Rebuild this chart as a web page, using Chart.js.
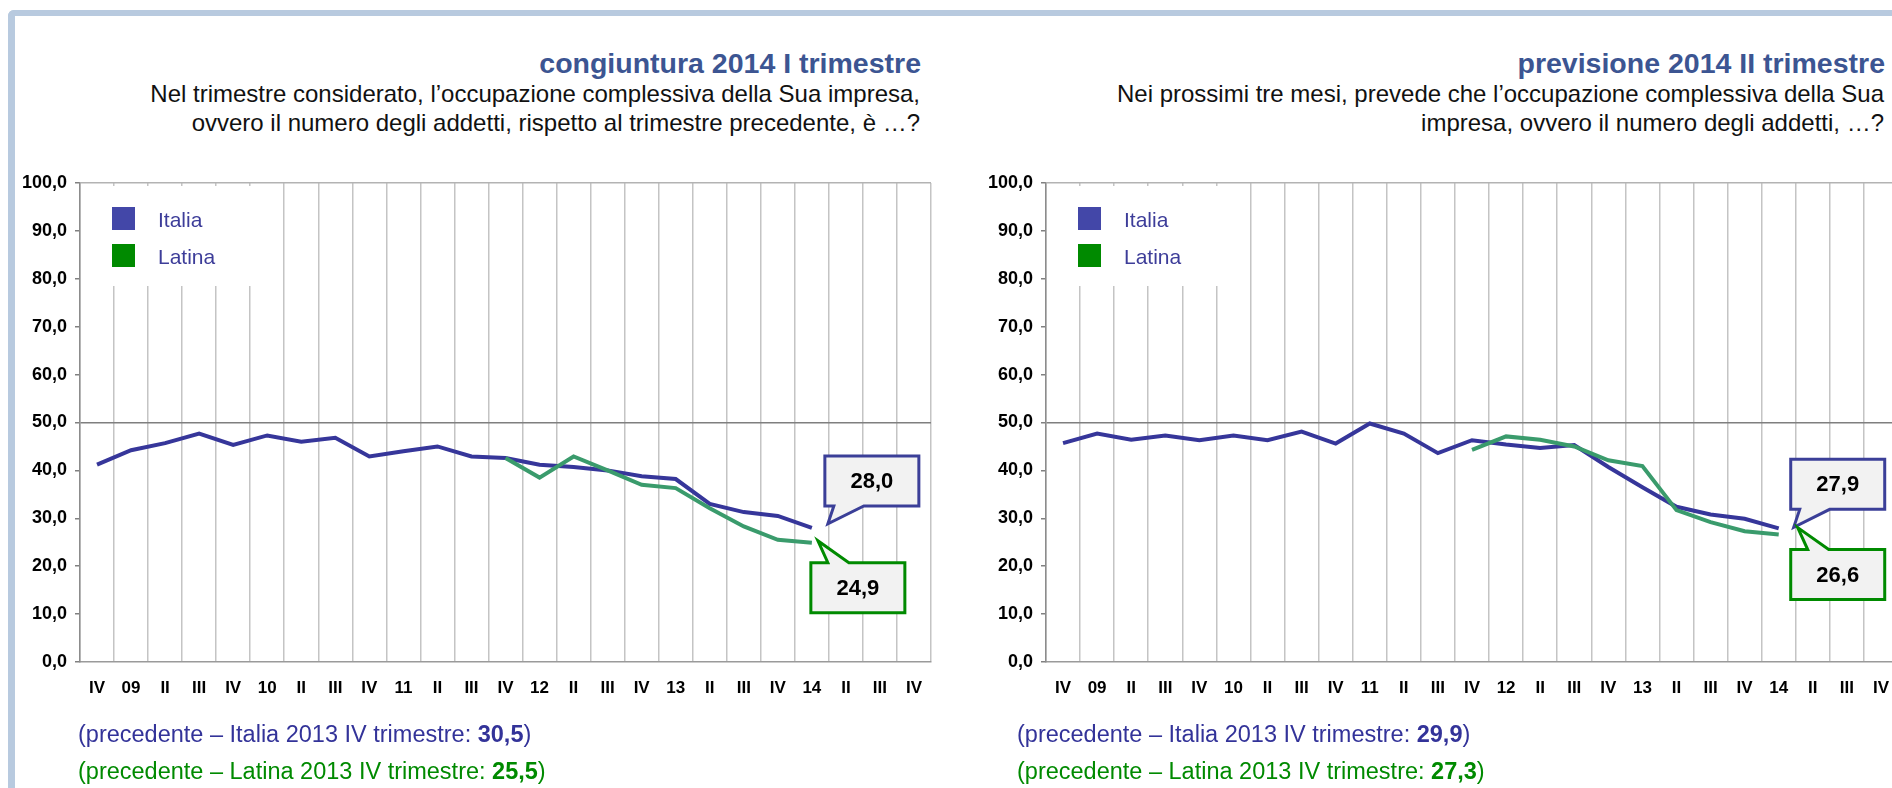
<!DOCTYPE html>
<html lang="it">
<head>
<meta charset="utf-8">
<title>Occupazione - congiuntura e previsione</title>
<script src="https://cdn.jsdelivr.net/npm/chart.js@4.4.1/dist/chart.umd.min.js"></script>
<style>
  html, body { margin: 0; padding: 0; background: #fff; overflow: hidden; }
  #page { position: relative; width: 1892px; height: 788px; overflow: hidden; font-family: Arial, 'Liberation Sans', sans-serif; }
  .frame { position: absolute; left: 8px; top: 10px; width: 1900px; height: 800px; box-sizing: border-box;
           border-top: 6px solid #b8cadf; border-left: 7px solid #b8cadf; border-top-left-radius: 6px; }
  .title { position: absolute; top: 47px; font-weight: bold; font-size: 28.5px; line-height: 32px; color: #3c5592;
           text-align: right; white-space: nowrap; }
  .sub { position: absolute; top: 79px; font-size: 24px; line-height: 29px; color: #111; text-align: right; white-space: nowrap; }
  .note { position: absolute; top: 716px; font-size: 23.5px; line-height: 37px; white-space: nowrap; }
  .note .it { color: #333399; }
  .note .la { color: #008a00; }
  canvas { position: absolute; top: 160px; }
</style>
</head>
<body>
<div id="page">
  <div class="frame"></div>

  <div class="title" style="left:0; width:921px;">congiuntura 2014 I trimestre</div>
  <div class="sub" style="left:0; width:920px;">Nel trimestre considerato, l’occupazione complessiva della Sua impresa,<br>ovvero il numero degli addetti, rispetto al trimestre precedente, è …?</div>

  <div class="title" style="left:946px; width:939px;">previsione 2014 II trimestre</div>
  <div class="sub" style="left:946px; width:938px;">Nei prossimi tre mesi, prevede che l’occupazione complessiva della Sua<br>impresa, ovvero il numero degli addetti, …?</div>

  <canvas id="cong" width="946" height="560" style="left:0;"></canvas>
  <canvas id="prev" width="960" height="560" style="left:946px;"></canvas>

  <div class="note" style="left:78px;" id="note-cong"></div>
  <div class="note" style="left:1017px;" id="note-prev"></div>
</div>

<script>
const FONT = "Arial, 'Liberation Sans', sans-serif";

// trimestri: IV 2008 ... IV 2014
const trimestri = ['IV', '09', 'II', 'III', 'IV', '10', 'II', 'III', 'IV', '11', 'II', 'III', 'IV',
                   '12', 'II', 'III', 'IV', '13', 'II', 'III', 'IV', '14', 'II', 'III', 'IV'];

// congiuntura 2014 I trimestre
const italiaCong = [41.2, 44.2, 45.7, 47.7, 45.3, 47.3, 46.0, 46.8, 42.9, 44.0, 45.0, 42.9, 42.6,
                    41.2, 40.7, 40.0, 38.8, 38.2, 33.0, 31.3, 30.5, 28.0, null, null, null];
const latinaCong = [null, null, null, null, null, null, null, null, null, null, null, null, 42.6,
                    38.5, 42.9, 40.0, 37.0, 36.3, 32.1, 28.3, 25.5, 24.9, null, null, null];

// previsione 2014 II trimestre
const italiaPrev = [45.7, 47.7, 46.4, 47.3, 46.3, 47.3, 46.3, 48.1, 45.6, 49.8, 47.7, 43.6, 46.3,
                    45.4, 44.7, 45.3, 40.7, 36.5, 32.4, 30.8, 29.9, 27.9, null, null, null];
const latinaPrev = [null, null, null, null, null, null, null, null, null, null, null, null, 44.3,
                    47.1, 46.4, 45.0, 42.1, 40.9, 31.7, 29.2, 27.3, 26.6, null, null, null];

// indice del trimestre precedente (2013 IV)
const iPrecedente = 20;

const fmt = v => v.toFixed(1).replace('.', ',');

// legenda dentro l'area del grafico, su fondo bianco
const legendBox = {
    id: 'legendBox',
    beforeDatasetsDraw(chart) {
        const { ctx, chartArea: a } = chart;
        ctx.save();
        ctx.fillStyle = '#fff';
        ctx.fillRect(a.left + 3, a.top + 3, 183, 100);
        chart.data.datasets.forEach((ds, i) => {
            const y = a.top + 24 + i * 37;
            ctx.fillStyle = ds.legendColor;
            ctx.fillRect(a.left + 32, y, 23, 23);
            ctx.fillStyle = '#3d3d99';
            ctx.font = '21px ' + FONT;
            ctx.textBaseline = 'middle';
            ctx.textAlign = 'left';
            ctx.fillText(ds.label, a.left + 78, y + 14);
        });
        ctx.restore();
    }
};

// fumetti con l'ultimo valore di ogni serie
const callouts = {
    id: 'callouts',
    afterDatasetsDraw(chart, args, opts) {
        const { ctx } = chart;
        const w = 94, h = 50;
        (opts.items || []).forEach(it => {
            const ds = chart.data.datasets[it.dataset];
            const meta = chart.getDatasetMeta(it.dataset);
            let last = ds.data.length - 1;
            while (ds.data[last] == null) last--;
            const pt = meta.data[last];
            const tx = pt.x + it.dx, ty = pt.y + it.dy;
            let l, t;
            ctx.save();
            ctx.beginPath();
            if (it.dir === 'up') {
                l = tx - 3;
                const bot = ty - 18;
                t = bot - h;
                ctx.moveTo(l, t);
                ctx.lineTo(l + w, t);
                ctx.lineTo(l + w, bot);
                ctx.lineTo(l + 39, bot);
                ctx.lineTo(tx, ty);
                ctx.lineTo(l + 9, bot);
                ctx.lineTo(l, bot);
            } else {
                l = tx - 7;
                t = ty + 22;
                const bot = t + h;
                ctx.moveTo(l, t);
                ctx.lineTo(l + 17, t);
                ctx.lineTo(tx, ty);
                ctx.lineTo(l + 38, t);
                ctx.lineTo(l + w, t);
                ctx.lineTo(l + w, bot);
                ctx.lineTo(l, bot);
            }
            ctx.closePath();
            ctx.fillStyle = '#f2f2f2';
            ctx.fill();
            ctx.lineWidth = 3;
            ctx.lineJoin = 'miter';
            ctx.strokeStyle = ds.boxColor;
            ctx.stroke();
            ctx.fillStyle = '#000';
            ctx.font = 'bold 22px ' + FONT;
            ctx.textAlign = 'center';
            ctx.textBaseline = 'middle';
            ctx.fillText(fmt(ds.data[last]), l + w / 2, t + h / 2 + 1);
            ctx.restore();
        });
    }
};

function makeChart(id, italia, latina, yWidth, padRight, items) {
    return new Chart(document.getElementById(id), {
        type: 'line',
        data: {
            labels: trimestri,
            datasets: [{
                label: 'Italia',
                data: italia,
                borderColor: '#36369a',
                legendColor: '#4347a8',
                boxColor: '#3b3f98',
                borderWidth: 4,
                pointRadius: 0,
                order: 2
            }, {
                label: 'Latina',
                data: latina,
                borderColor: '#3a9b6c',
                legendColor: '#008a00',
                boxColor: '#008a00',
                borderWidth: 4,
                pointRadius: 0,
                order: 1
            }]
        },
        options: {
            responsive: false,
            animation: false,
            devicePixelRatio: 1,
            events: [],
            layout: { padding: { top: 23, right: padRight, left: 0, bottom: 0 } },
            plugins: {
                legend: { display: false },
                tooltip: { enabled: false },
                callouts: { items: items }
            },
            scales: {
                x: {
                    offset: true,
                    grid: { offset: true, color: '#c4c4c4', lineWidth: 1.5, drawTicks: false },
                    border: { color: '#9a9a9a', width: 1.5 },
                    ticks: {
                        autoSkip: false, maxRotation: 0, padding: 16,
                        color: '#000', font: { family: FONT, size: 17, weight: 'bold' }
                    },
                    afterFit: s => { s.height = 58; }
                },
                y: {
                    min: 0,
                    max: 100,
                    ticks: {
                        stepSize: 10, padding: 8, color: '#000',
                        font: { family: FONT, size: 18, weight: 'bold' },
                        callback: v => fmt(v)
                    },
                    grid: {
                        color: c => c.tick.value === 50 ? '#7f7f7f' : (c.tick.value === 100 ? '#b3b3b3' : 'rgba(0,0,0,0)'),
                        lineWidth: 1.5,
                        tickLength: 5,
                        tickColor: '#808080'
                    },
                    border: { color: '#8c8c8c', width: 1.5 },
                    afterFit: s => { s.width = yWidth; }
                }
            }
        },
        plugins: [legendBox, callouts]
    });
}

makeChart('cong', italiaCong, latinaCong, 80, 15, [
    { dataset: 0, dir: 'up', dx: 16, dy: -4 },
    { dataset: 1, dir: 'down', dx: 6, dy: -2 }
]);
makeChart('prev', italiaPrev, latinaPrev, 100, 8, [
    { dataset: 0, dir: 'up', dx: 15, dy: -1 },
    { dataset: 1, dir: 'down', dx: 19, dy: -7 }
]);

// note sul trimestre precedente
function writeNote(id, italia, latina) {
    document.getElementById(id).innerHTML =
        '<span class="it">(precedente – Italia 2013 IV trimestre: <b>' + fmt(italia[iPrecedente]) + '</b>)</span><br>' +
        '<span class="la">(precedente – Latina 2013 IV trimestre: <b>' + fmt(latina[iPrecedente]) + '</b>)</span>';
}
writeNote('note-cong', italiaCong, latinaCong);
writeNote('note-prev', italiaPrev, latinaPrev);
</script>
</body>
</html>
